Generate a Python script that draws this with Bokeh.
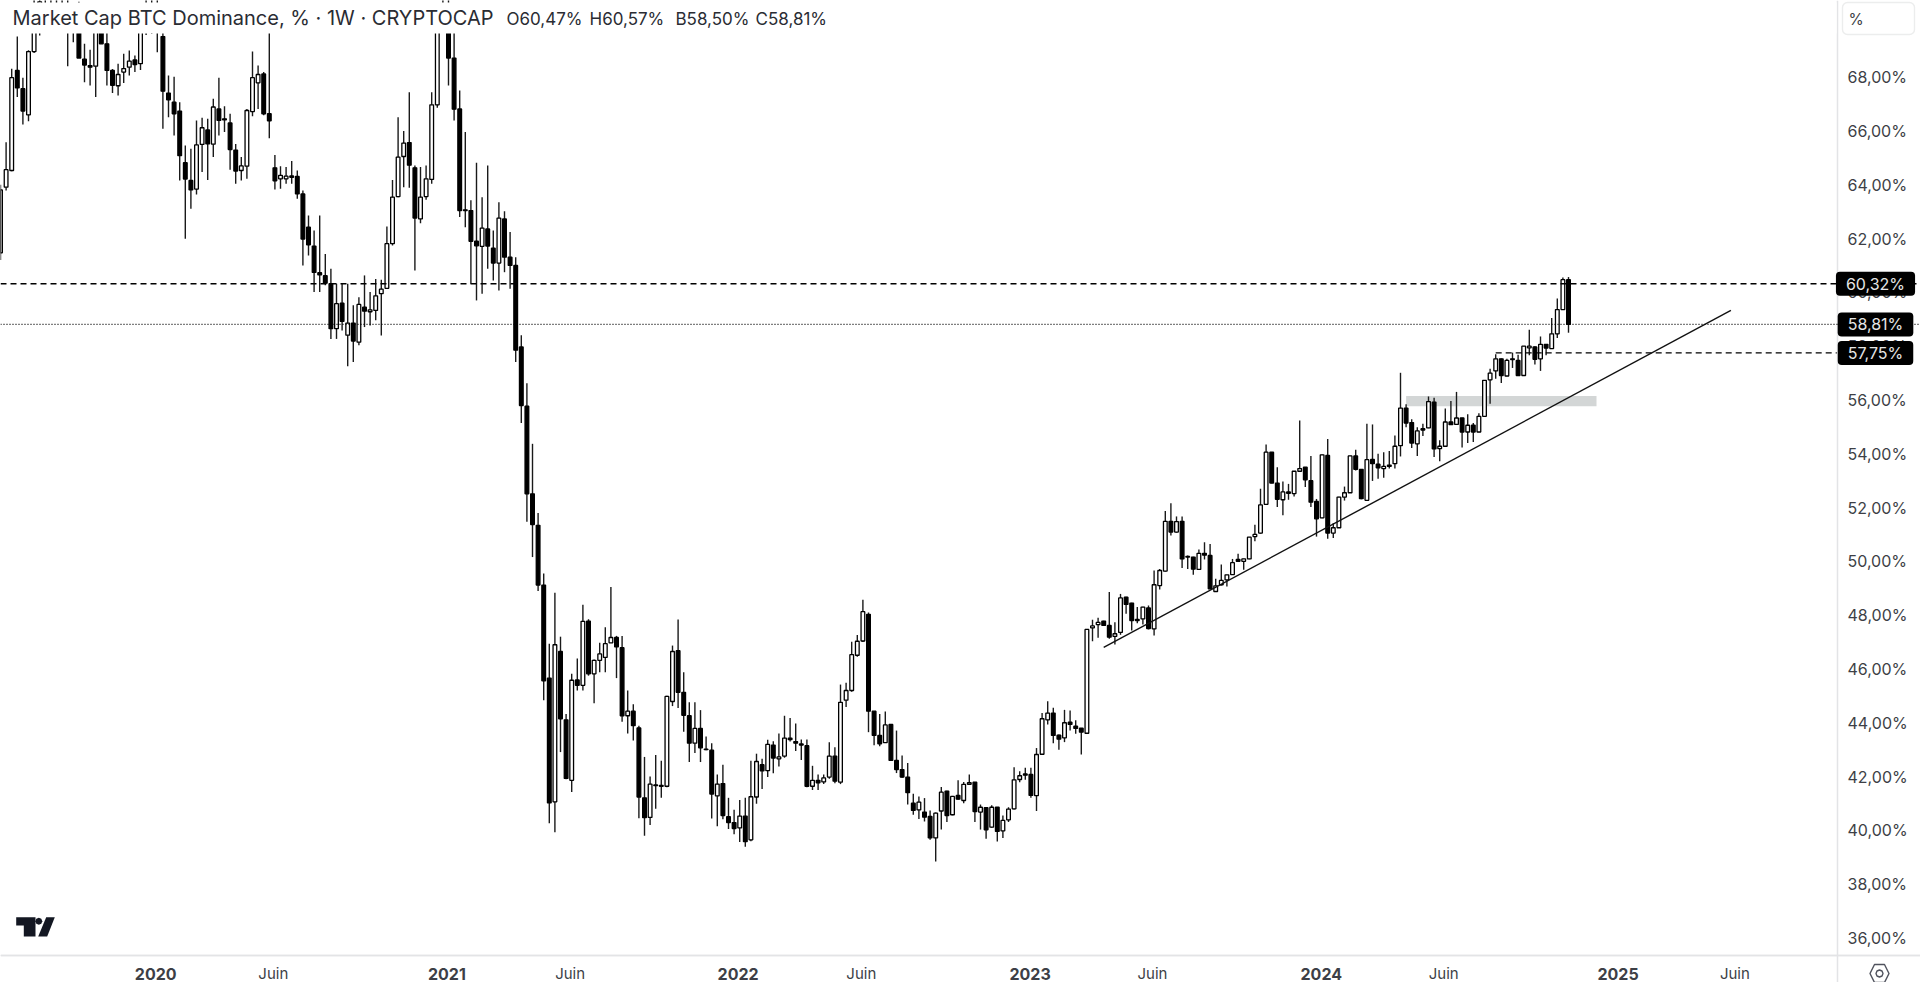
import pandas as pd
from bokeh.embed import file_html
from bokeh.resources import INLINE
from bokeh.plotting import figure
from bokeh.models import (ColumnDataSource, DatetimeAxis, LinearAxis, FixedTicker, Label, Span,
                          BoxAnnotation, PolyAnnotation, Range1d)

first_week = "2019-06-24"

opens = [
61.47,63.91,64.53,68.25,67.57,66.60,68.95,70.20,70.60,70.20,
70.70,70.30,70.60,70.10,70.40,68.67,68.43,68.41,69.90,69.24,
68.25,67.68,68.19,68.37,68.64,68.50,69.90,70.50,70.10,69.51,
67.41,67.07,66.74,64.82,64.16,63.84,65.50,66.04,65.51,66.82,
66.45,66.30,65.29,64.53,64.69,66.72,67.79,68.12,66.64,64.63,
64.22,64.22,64.33,64.31,63.66,62.42,61.72,60.73,60.62,60.32,
58.65,59.60,58.41,58.86,58.15,59.45,59.28,59.33,59.95,60.15,
61.81,63.56,65.05,65.57,64.63,62.73,63.56,64.20,66.97,70.00,
70.60,68.71,66.82,63.07,63.04,61.90,61.71,62.36,61.64,61.09,
62.73,61.31,61.00,57.97,55.77,52.51,51.34,49.12,45.66,41.06,
46.65,44.11,41.86,45.59,45.39,47.78,45.82,46.32,46.43,46.97,
47.17,46.79,44.26,44.43,43.81,41.21,40.48,41.69,41.67,41.64,
44.79,46.68,45.13,44.26,43.24,43.79,43.02,42.98,41.28,41.74,
40.51,40.29,40.09,40.53,39.65,41.24,42.44,42.22,43.17,42.66,
42.76,43.43,43.30,43.21,43.15,41.64,41.86,41.80,41.98,42.76,
41.79,44.84,45.20,46.51,47.04,48.03,44.43,43.53,43.26,43.94,
42.60,42.26,41.98,41.01,40.76,40.68,40.52,39.72,40.72,41.46,
40.58,41.30,41.11,41.71,41.79,40.68,40.84,40.12,40.86,39.98,
40.39,40.80,41.89,42.10,42.08,41.29,42.83,44.11,44.36,43.54,
43.44,44.02,43.87,43.80,43.61,47.53,47.65,47.78,47.62,47.21,
47.36,48.67,48.45,47.84,47.86,48.27,47.49,49.10,49.64,51.49,
51.09,51.49,50.18,50.16,49.70,50.30,50.22,48.88,49.13,49.31,
49.51,50.07,50.00,50.09,50.92,51.05,52.12,54.06,52.91,52.29,
52.58,52.52,53.35,53.50,53.00,52.23,51.62,53.94,51.05,51.25,
52.39,52.55,53.92,53.42,52.27,53.79,53.61,53.45,53.58,53.63,
54.30,55.70,55.16,54.37,54.93,54.96,55.92,54.19,54.28,55.18,
55.09,55.33,54.81,55.06,54.81,55.39,56.75,57.08,57.53,56.89,
57.53,57.47,56.91,57.94,57.97,57.53,58.07,57.91,58.46,59.36,60.47]

highs = [
64.00,65.58,68.31,69.51,67.98,69.00,71.50,71.50,71.40,71.00,
71.60,71.00,71.30,70.70,70.80,69.24,69.02,70.20,70.20,69.80,
68.30,68.50,68.87,68.99,68.81,70.20,71.20,71.30,71.40,70.70,
68.06,68.02,67.07,65.46,65.34,66.39,66.49,66.45,67.20,67.98,
66.92,66.64,65.52,65.03,66.82,68.95,68.43,68.19,70.00,65.11,
64.69,64.66,64.88,64.53,63.79,62.86,62.30,62.86,61.43,60.88,
60.32,60.32,60.32,59.52,59.82,60.63,60.01,60.50,60.47,62.45,
64.18,66.51,66.00,67.44,64.72,64.66,64.72,67.44,70.50,71.50,
71.40,69.90,67.50,65.96,63.42,64.82,63.54,64.72,62.30,63.35,
63.02,62.24,61.31,58.41,56.62,54.37,51.80,49.55,46.94,48.83,
47.20,44.33,45.82,46.39,48.39,47.85,46.35,46.97,47.55,49.05,
47.23,47.23,45.20,44.69,43.89,42.73,42.00,42.80,42.59,45.00,
46.87,47.84,45.88,44.76,44.76,44.47,43.49,43.24,42.08,42.44,
41.21,40.77,41.13,41.21,42.59,42.85,42.66,43.37,43.31,43.60,
44.26,44.18,43.97,43.38,43.38,42.40,42.08,42.08,43.28,43.09,
45.42,45.49,47.01,47.26,48.57,48.10,44.43,44.33,44.42,43.95,
43.71,42.78,42.50,41.36,41.26,41.20,40.74,40.66,41.61,41.47,
41.28,41.86,41.80,42.08,41.80,40.96,40.85,40.93,40.87,40.55,
40.86,42.35,42.20,42.33,42.33,43.06,44.36,44.80,44.56,43.56,
44.48,44.46,44.09,43.81,47.48,47.83,47.90,47.79,48.86,47.74,
48.79,48.68,48.46,48.30,48.31,48.36,49.66,49.72,51.87,52.16,
51.67,51.67,50.22,50.17,50.44,50.71,50.65,49.35,49.88,49.50,
50.09,50.28,50.10,50.91,51.36,52.70,54.34,54.07,53.50,52.97,
52.88,53.36,55.24,53.51,53.92,52.32,53.97,54.55,51.42,52.40,
52.78,53.93,54.15,53.43,55.12,55.09,54.00,54.06,54.10,54.68,
57.01,55.84,55.28,54.99,55.12,56.13,56.08,54.50,55.68,55.96,
56.30,55.34,55.47,55.14,55.51,56.74,57.16,57.70,57.54,57.53,
57.76,57.68,58.01,58.61,58.00,58.36,58.08,59.05,59.77,60.55,60.57]

lows = [
61.20,63.79,64.50,67.26,66.24,66.36,68.90,69.55,70.10,69.90,
70.00,69.80,68.41,69.30,68.71,67.81,67.69,67.26,69.24,67.69,
67.41,67.32,67.78,68.06,68.19,68.27,69.57,69.61,68.93,66.08,
66.51,65.83,64.16,61.99,63.11,63.64,64.47,64.18,65.03,65.83,
65.96,64.56,64.04,64.16,64.22,66.55,66.82,66.58,65.73,63.82,
63.85,64.04,64.04,63.48,61.00,61.37,60.01,60.01,60.26,58.27,
58.27,58.58,57.25,57.41,58.03,58.71,58.77,58.96,58.40,60.13,
61.74,63.54,63.91,63.89,60.81,62.57,63.44,64.04,66.86,69.70,
67.69,66.39,62.80,62.42,60.32,59.70,59.95,60.88,60.44,60.07,
60.75,60.13,57.41,55.14,51.47,50.16,48.90,44.84,40.26,39.93,
42.91,41.90,41.43,45.20,45.20,45.75,44.73,45.88,45.88,47.15,
45.66,44.04,43.60,43.34,40.45,39.80,40.20,40.80,41.21,41.60,
44.62,44.55,43.67,42.54,42.88,42.54,42.98,40.44,40.15,40.41,
40.05,39.86,39.57,39.39,39.60,40.99,41.54,41.98,42.12,42.37,
42.70,43.30,42.95,42.62,41.60,41.50,41.50,41.72,41.92,41.75,
41.72,44.59,45.15,46.45,47.00,43.65,43.16,43.13,43.25,42.58,
42.13,41.96,40.96,40.58,40.42,40.33,39.65,38.84,40.03,40.31,
40.56,41.14,41.01,41.70,40.31,40.03,39.69,40.10,39.59,39.72,
40.31,40.78,41.79,41.88,41.21,40.72,42.80,43.94,43.24,43.00,
43.28,43.71,43.59,42.82,43.60,47.03,47.16,47.60,47.12,46.91,
47.27,48.05,47.43,47.70,47.65,47.47,47.24,48.95,49.62,50.96,
51.07,49.75,49.72,49.50,49.68,50.07,48.96,48.86,49.10,49.07,
49.50,49.98,49.69,50.08,50.75,51.03,52.10,52.90,52.02,51.71,
52.29,52.41,53.34,52.76,52.02,50.92,51.60,50.84,50.87,51.24,
52.26,52.54,53.38,52.31,52.26,52.99,53.07,53.11,53.45,53.45,
53.90,54.99,54.21,53.92,54.66,54.95,53.88,53.72,54.27,55.07,
55.08,54.23,54.40,54.44,54.80,55.38,55.86,56.79,56.63,56.88,
57.19,56.90,56.90,57.66,57.32,57.08,57.66,57.90,58.30,59.35,58.50]

closes = [
63.81,64.56,67.98,67.60,66.74,68.95,70.50,70.80,70.20,70.70,
70.30,70.60,70.10,70.40,68.71,68.45,68.37,69.90,69.24,68.25,
67.70,68.10,68.32,68.60,68.47,69.90,70.50,70.10,70.60,67.48,
67.16,66.64,65.08,64.21,63.81,65.48,66.12,65.52,66.89,66.39,
66.41,65.31,64.51,64.70,66.76,67.98,68.10,66.64,66.38,64.15,
64.35,64.32,64.28,63.66,61.98,61.77,60.74,60.65,60.34,58.65,
59.58,58.92,58.86,58.19,59.55,59.30,59.35,59.87,60.12,61.81,
63.54,65.03,65.55,64.73,62.76,63.54,64.22,66.97,70.00,70.70,
68.71,66.81,63.04,63.04,61.90,61.73,62.39,61.72,61.09,62.76,
61.31,61.00,57.85,55.79,52.51,51.37,49.12,45.56,41.02,46.90,
44.15,41.93,45.58,45.39,47.77,45.82,46.32,46.56,46.94,47.17,
46.82,44.26,44.43,43.89,41.24,40.47,41.72,41.66,41.64,44.98,
46.65,45.13,44.28,43.24,43.79,43.07,43.00,41.35,41.72,40.55,
40.29,40.07,40.53,39.58,41.25,42.56,42.21,43.20,42.69,42.73,
43.43,43.37,43.24,43.17,41.64,41.86,41.77,41.95,42.76,41.83,
44.76,45.20,46.53,47.03,48.13,44.43,43.53,43.22,43.92,42.60,
42.26,41.98,41.40,40.74,41.05,40.49,39.72,40.64,41.42,40.55,
41.26,41.16,41.71,41.77,40.70,40.86,40.02,40.86,39.96,40.37,
40.79,41.88,42.03,42.05,41.30,42.82,44.15,44.36,43.53,43.39,
44.00,43.94,43.79,43.65,47.47,47.60,47.73,47.62,47.18,47.31,
48.64,48.40,47.80,47.80,48.30,47.50,49.13,49.66,51.49,51.09,
51.48,50.09,50.16,49.71,50.30,50.23,48.98,49.09,49.29,49.50,
49.95,50.00,50.09,50.90,51.00,52.10,54.06,52.91,52.31,52.58,
52.53,53.35,53.45,53.03,52.20,51.58,53.96,51.05,51.25,52.39,
52.55,53.92,53.42,52.33,53.78,53.63,53.48,53.53,53.53,54.28,
55.70,55.14,54.40,54.85,54.88,55.94,54.18,54.28,55.18,55.08,
55.33,54.81,55.06,54.81,55.39,56.73,57.00,57.53,56.91,57.47,
57.50,56.91,58.00,58.00,57.51,58.07,57.93,58.46,59.36,60.47,58.81]

y_ticks = [36, 38, 40, 42, 44, 46, 48, 50, 52, 54, 56, 58, 60, 62, 64, 66, 68]
y_tick_labels = ["36,00%", "38,00%", "40,00%", "42,00%", "44,00%", "46,00%", "48,00%", "50,00%", "52,00%",
                 "54,00%", "56,00%", "58,00%", "60,00%", "62,00%", "64,00%", "66,00%", "68,00%"]
year_ticks = ["2020-01-04", "2021-01-02", "2022-01-01", "2023-01-01", "2023-12-31", "2025-01-05"]
year_labels = ["2020", "2021", "2022", "2023", "2024", "2025"]
month_ticks = ["2020-05-30", "2021-06-05", "2022-06-04", "2023-06-03", "2024-06-01", "2025-05-31"]
month_labels = ["Juin", "Juin", "Juin", "Juin", "Juin", "Juin"]
ohlc_labels = ["O60,47%", "H60,57%", "B58,50%", "C58,81%"]

level_high = 60.32
level_last = 58.81
level_low = 57.75
level_low_start = "2024-08-05"
zone_start, zone_end = "2024-04-15", "2024-12-09"
zone_low, zone_high = 55.77, 56.15
trend_dates = ["2023-04-03", "2025-05-26"]
trend_values = [46.8, 59.33]

WEEK_PX = 5.6
PX_PER_PCT = 26.9
TOP_VALUE = 70.85
INK = "#3d3f46"
GUIDE = "#e3e4e6"


def ms(d):
    return pd.Timestamp(d).timestamp() * 1000


week_ms = 7 * 24 * 3600 * 1000
dates = pd.date_range(first_week, periods=len(opens), freq="7D")
x0 = ms(first_week)
x_end = x0 + 1920 / WEEK_PX * week_ms
y_end = TOP_VALUE - 982 / PX_PER_PCT

p = figure(width=1920, height=982, output_backend="svg", toolbar_location=None,
           x_axis_type=None, y_axis_type=None,
           x_range=Range1d(x0, x_end), y_range=Range1d(y_end, TOP_VALUE),
           min_border=0, min_border_left=0, min_border_right=0, min_border_top=0, min_border_bottom=0,
           outline_line_color=None, background_fill_color="white", border_fill_color="white")
p.xgrid.visible = False
p.ygrid.visible = False

p.quad(left=[pd.Timestamp(zone_start)], right=[pd.Timestamp(zone_end)], bottom=[zone_low], top=[zone_high],
       fill_color="#d3d6d6", line_color=None)

src = ColumnDataSource(dict(
    x=dates, o=opens, h=highs, l=lows, c=closes,
    top=[max(a, b) for a, b in zip(opens, closes)],
    bottom=[min(a, b) for a, b in zip(opens, closes)],
    fill=["white" if b >= a else "black" for a, b in zip(opens, closes)],
))
p.segment(x0="x", y0="h", x1="x", y1="l", source=src, line_color="#1a1a1a", line_width=1.4)
p.vbar(x="x", top="top", bottom="bottom", width=week_ms * 0.66, source=src,
       fill_color="fill", line_color="black", line_width=1.3)

axis_x = x0 + 1837 / WEEK_PX * week_ms
p.add_layout(Span(location=level_high, dimension="width", line_color="#000000", line_width=1.3, line_dash=[6, 4]))
p.add_layout(Span(location=level_last, dimension="width", line_color="#000000", line_width=1.3, line_dash=[1, 2]))
p.line(x=[pd.Timestamp(level_low_start), pd.to_datetime(axis_x, unit="ms")], y=[level_low, level_low],
       line_color="#000000", line_width=1.3, line_dash=[6, 4])
p.line(x=pd.to_datetime(trend_dates), y=trend_values, line_color="#111111", line_width=1.4)

p.add_layout(BoxAnnotation(left=0, right=1836, top=2, bottom=33, left_units="canvas", right_units="canvas",
                           top_units="canvas", bottom_units="canvas", fill_color="white", fill_alpha=1,
                           line_color=None, level="overlay"))

axis_y = TOP_VALUE - 955 / PX_PER_PCT
yaxis = LinearAxis(ticker=FixedTicker(ticks=y_ticks), major_label_overrides=dict(zip(y_ticks, y_tick_labels)),
                   fixed_location=axis_x, axis_line_color=GUIDE, axis_line_width=1.5,
                   major_tick_line_color=None, minor_tick_line_color=None,
                   major_label_text_font="Inter", major_label_text_font_size="16px",
                   major_label_text_color=INK, major_label_standoff=4)
p.add_layout(yaxis, "right")


def date_axis(ticks, labels, style, standoff):
    vals = [ms(t) for t in ticks]
    return DatetimeAxis(ticker=FixedTicker(ticks=vals), major_label_overrides=dict(zip(vals, labels)),
                        fixed_location=axis_y, axis_line_color=GUIDE, axis_line_width=1.5,
                        major_tick_line_color=None, minor_tick_line_color=None,
                        major_label_text_font="Inter", major_label_text_font_size="16px" if style == "bold" else "15px",
                        major_label_text_font_style=style, major_label_text_color=INK,
                        major_label_standoff=standoff)


p.add_layout(date_axis(year_ticks, year_labels, "bold", 6), "below")
p.add_layout(date_axis(month_ticks, month_labels, "normal", 2), "below")

p.add_layout(Label(x=12, y=17, x_units="canvas", y_units="canvas", text="Market Cap BTC Dominance, % · 1W · CRYPTOCAP",
                   text_font="Inter", text_font_size="20px", text_color="#2a2c33", text_baseline="middle",
                   level="overlay"))
for px, text in zip([506, 589, 675, 755], ohlc_labels):
    p.add_layout(Label(x=px, y=18, x_units="canvas", y_units="canvas", text=text,
                       text_font="Inter", text_font_size="17px", text_color="#2a2c33", text_baseline="middle",
                       level="overlay"))

for value, text in [(level_high, "60,32%"), (level_last, "58,81%"), (level_low, "57,75%")]:
    p.add_layout(Label(x=1875, y=value, x_units="canvas", y_units="data", text=text,
                       text_font="Inter", text_font_size="16px", text_color="#e6e6e6",
                       text_align="center", text_baseline="middle",
                       background_fill_color="black", padding=(10, 2), border_radius=4))

p.add_layout(BoxAnnotation(left=1842, right=1914, top=2, bottom=34, left_units="canvas", right_units="canvas",
                           top_units="canvas", bottom_units="canvas", fill_color="white", fill_alpha=1,
                           line_color="#eceded", line_alpha=1, line_width=1.4, border_radius=5, level="overlay"))
p.add_layout(Label(x=1848, y=19, x_units="canvas", y_units="canvas", text="%", text_font="Inter",
                   text_font_size="15.5px", text_color=INK, text_baseline="middle", level="overlay"))

LOGO = "#131722"
for xs, ys in [([15.7, 35, 35, 23.3, 23.3, 15.7], [916.7, 916.7, 936, 936, 925, 925]),
               ([45.7, 54.3, 46.7, 37.7], [916.7, 916.7, 936, 936]),
               ([38.3, 40.8, 41.8, 40.8, 38.3, 35.8, 34.8, 35.8], [917.2, 918.2, 920.7, 923.2, 924.2, 923.2, 920.7, 918.2])]:
    p.add_layout(PolyAnnotation(xs=xs, ys=ys, xs_units="canvas", ys_units="canvas", fill_color=LOGO, fill_alpha=1,
                                line_color=None))

for xs, ys in [([1874, 1884, 1888.5, 1884, 1874, 1869.5], [964, 964, 973, 982, 982, 973]),
               ([1879, 1881.5, 1882.5, 1881.5, 1879, 1876.5, 1875.5, 1876.5], [969.5, 970.5, 973, 975.5, 976.5, 975.5, 973, 970.5])]:
    p.add_layout(PolyAnnotation(xs=xs, ys=ys, xs_units="canvas", ys_units="canvas", fill_alpha=0,
                                line_color="#50535e", line_alpha=1, line_width=1.4))

open("out.html", "w").write(file_html(p, INLINE))
